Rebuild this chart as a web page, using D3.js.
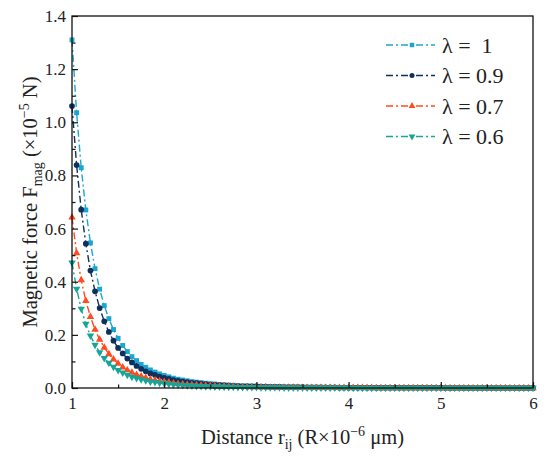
<!DOCTYPE html>
<html>
<head>
<meta charset="utf-8">
<script src="https://cdn.jsdelivr.net/npm/d3@7"></script>
<style>
    body { margin: 0; background: #fff; }
    svg text { font-family: "Liberation Serif", "Tinos", "Times New Roman", Times, "DejaVu Serif", serif; fill: #222; }
</style>
</head>
<body>
<div id="chart"></div>
<script>

// distance r_ij, step 0.05
let distance = [
    1.00, 1.05, 1.10, 1.15, 1.20, 1.25, 1.30, 1.35, 1.40, 1.45,
    1.50, 1.55, 1.60, 1.65, 1.70, 1.75, 1.80, 1.85, 1.90, 1.95,
    2.00, 2.05, 2.10, 2.15, 2.20, 2.25, 2.30, 2.35, 2.40, 2.45,
    2.50, 2.55, 2.60, 2.65, 2.70, 2.75, 2.80, 2.85, 2.90, 2.95,
    3.00, 3.05, 3.10, 3.15, 3.20, 3.25, 3.30, 3.35, 3.40, 3.45,
    3.50, 3.55, 3.60, 3.65, 3.70, 3.75, 3.80, 3.85, 3.90, 3.95,
    4.00, 4.05, 4.10, 4.15, 4.20, 4.25, 4.30, 4.35, 4.40, 4.45,
    4.50, 4.55, 4.60, 4.65, 4.70, 4.75, 4.80, 4.85, 4.90, 4.95,
    5.00, 5.05, 5.10, 5.15, 5.20, 5.25, 5.30, 5.35, 5.40, 5.45,
    5.50, 5.55, 5.60, 5.65, 5.70, 5.75, 5.80, 5.85, 5.90, 5.95,
    6.00
];

// magnetic force (x10^-5 N)
let force10 = [
    1.310, 1.036, 0.829, 0.670, 0.546, 0.449, 0.372, 0.310, 0.261, 0.220,
    0.187, 0.160, 0.137, 0.118, 0.103, 0.089, 0.078, 0.068, 0.060, 0.053,
    0.047, 0.042, 0.037, 0.033, 0.030, 0.027, 0.024, 0.022, 0.020, 0.018,
    0.016, 0.015, 0.013, 0.012, 0.011, 0.010, 0.009, 0.008, 0.008, 0.007,
    0.007, 0.006, 0.006, 0.005, 0.005, 0.005, 0.004, 0.004, 0.004, 0.004,
    0.003, 0.003, 0.003, 0.003, 0.003, 0.002, 0.002, 0.002, 0.002, 0.002,
    0.002, 0.002, 0.002, 0.002, 0.001, 0.001, 0.001, 0.001, 0.001, 0.001,
    0.001, 0.001, 0.001, 0.001, 0.001, 0.001, 0.001, 0.001, 0.001, 0.001,
    0.001, 0.001, 0.001, 0.001, 0.001, 0.000, 0.000, 0.000, 0.000, 0.000,
    0.000, 0.000, 0.000, 0.000, 0.000, 0.000, 0.000, 0.000, 0.000, 0.000,
    0.000
];

let force09 = [
    1.061, 0.839, 0.671, 0.543, 0.442, 0.364, 0.301, 0.251, 0.211, 0.178,
    0.151, 0.130, 0.111, 0.096, 0.083, 0.072, 0.063, 0.055, 0.049, 0.043,
    0.038, 0.034, 0.030, 0.027, 0.024, 0.022, 0.019, 0.018, 0.016, 0.015,
    0.013, 0.012, 0.011, 0.010, 0.009, 0.008, 0.007, 0.006, 0.006, 0.006,
    0.006, 0.005, 0.005, 0.004, 0.004, 0.004, 0.003, 0.003, 0.003, 0.003,
    0.003, 0.002, 0.002, 0.002, 0.002, 0.002, 0.002, 0.002, 0.001, 0.001,
    0.001, 0.001, 0.001, 0.001, 0.001, 0.001, 0.001, 0.001, 0.001, 0.001,
    0.001, 0.001, 0.001, 0.001, 0.001, 0.001, 0.001, 0.001, 0.001, 0.001,
    0.001, 0.000, 0.000, 0.000, 0.000, 0.000, 0.000, 0.000, 0.000, 0.000,
    0.000, 0.000, 0.000, 0.000, 0.000, 0.000, 0.000, 0.000, 0.000, 0.000,
    0.000
];

let force07 = [
    0.642, 0.508, 0.406, 0.328, 0.268, 0.220, 0.182, 0.152, 0.128, 0.108,
    0.092, 0.078, 0.067, 0.058, 0.050, 0.044, 0.038, 0.033, 0.029, 0.026,
    0.023, 0.021, 0.018, 0.016, 0.015, 0.013, 0.012, 0.011, 0.010, 0.009,
    0.008, 0.007, 0.006, 0.006, 0.005, 0.005, 0.004, 0.004, 0.004, 0.003,
    0.003, 0.003, 0.003, 0.002, 0.002, 0.002, 0.002, 0.002, 0.002, 0.002,
    0.001, 0.001, 0.001, 0.001, 0.001, 0.001, 0.001, 0.001, 0.001, 0.001,
    0.001, 0.001, 0.001, 0.001, 0.001, 0.001, 0.000, 0.000, 0.000, 0.000,
    0.000, 0.000, 0.000, 0.000, 0.000, 0.000, 0.000, 0.000, 0.000, 0.000,
    0.000, 0.000, 0.000, 0.000, 0.000, 0.000, 0.000, 0.000, 0.000, 0.000,
    0.000, 0.000, 0.000, 0.000, 0.000, 0.000, 0.000, 0.000, 0.000, 0.000,
    0.000
];

let force06 = [
    0.472, 0.373, 0.298, 0.241, 0.197, 0.162, 0.134, 0.112, 0.094, 0.079,
    0.067, 0.058, 0.049, 0.042, 0.037, 0.032, 0.028, 0.024, 0.022, 0.019,
    0.017, 0.015, 0.013, 0.012, 0.011, 0.010, 0.009, 0.008, 0.007, 0.006,
    0.006, 0.005, 0.005, 0.004, 0.004, 0.004, 0.003, 0.003, 0.003, 0.003,
    0.003, 0.002, 0.002, 0.002, 0.002, 0.002, 0.001, 0.001, 0.001, 0.001,
    0.001, 0.001, 0.001, 0.001, 0.001, 0.001, 0.001, 0.001, 0.001, 0.001,
    0.001, 0.000, 0.000, 0.000, 0.000, 0.000, 0.000, 0.000, 0.000, 0.000,
    0.000, 0.000, 0.000, 0.000, 0.000, 0.000, 0.000, 0.000, 0.000, 0.000,
    0.000, 0.000, 0.000, 0.000, 0.000, 0.000, 0.000, 0.000, 0.000, 0.000,
    0.000, 0.000, 0.000, 0.000, 0.000, 0.000, 0.000, 0.000, 0.000, 0.000,
    0.000
];

let seriesNames = ["λ =  1", "λ = 0.9", "λ = 0.7", "λ = 0.6"];
let seriesValues = [force10, force09, force07, force06];
let seriesColors = ["#1aa6cf", "#0f2f5c", "#ff4b1f", "#16a596"];
let seriesSymbols = [d3.symbolSquare, d3.symbolCircle, d3.symbolTriangle, d3.symbolTriangle];

let xTicks = [1, 2, 3, 4, 5, 6];
let yTicks = [0.0, 0.2, 0.4, 0.6, 0.8, 1.0, 1.2, 1.4];

let serif = '"Liberation Serif", "Tinos", "Times New Roman", Times, "DejaVu Serif", serif';

let margin = {top: 16, right: 17, bottom: 78, left: 72};
let width = 550 - margin.left - margin.right;
let height = 466 - margin.top - margin.bottom;

let svg = d3.select("#chart").append("svg")
    .attr("width", 550)
    .attr("height", 466)
    .style("font-family", serif);

let g = svg.append("g")
    .attr("transform", `translate(${margin.left}, ${margin.top})`);

let x = d3.scaleLinear().domain([1, 6]).range([0, width]);
let y = d3.scaleLinear().domain([0, 1.4]).range([height, 0]);

// series
let line = d3.line()
    .x((d, i) => x(distance[i]))
    .y(d => y(d));

seriesValues.forEach((vals, k) => {
    g.append("path")
        .datum(vals)
        .attr("fill", "none")
        .attr("stroke", seriesColors[k])
        .attr("stroke-width", 1.4)
        .attr("stroke-dasharray", "7,3,2,3")
        .attr("d", line);

    let sym = d3.symbol().type(seriesSymbols[k]).size(k === 1 ? 26 : 24);
    g.selectAll(".mk" + k)
        .data(vals)
        .enter().append("path")
        .attr("class", "mk" + k)
        .attr("d", sym)
        .attr("fill", seriesColors[k])
        .attr("transform", (d, i) => `translate(${x(distance[i])}, ${y(d)})` + (k === 3 ? " rotate(180)" : ""));
});

// axes (ticks pointing inward)
let xAxis = g.append("g")
    .attr("transform", `translate(0, ${height})`)
    .call(d3.axisBottom(x).tickValues(xTicks).tickFormat(d3.format("d")).tickSizeInner(-6).tickSizeOuter(0));
let xMinor = g.append("g")
    .attr("transform", `translate(0, ${height})`)
    .call(d3.axisBottom(x).tickValues([1.5, 2.5, 3.5, 4.5, 5.5]).tickFormat("").tickSizeInner(-3.5).tickSizeOuter(0));

let yAxis = g.append("g")
    .call(d3.axisLeft(y).tickValues(yTicks).tickFormat(d3.format(".1f")).tickSizeInner(-6).tickSizeOuter(0));
let yMinor = g.append("g")
    .call(d3.axisLeft(y).tickValues([0.1, 0.3, 0.5, 0.7, 0.9, 1.1, 1.3]).tickFormat("").tickSizeInner(-3.5).tickSizeOuter(0));

[xAxis, xMinor, yAxis, yMinor].forEach(a => {
    a.attr("font-family", null);
    a.select(".domain").remove();
    a.selectAll("line").attr("stroke", "#111").attr("stroke-width", 1.2);
});
xAxis.selectAll("text").attr("font-size", 17).attr("dy", "1.05em");
yAxis.selectAll("text").attr("font-size", 17).attr("x", -6);

// frame
g.append("rect")
    .attr("width", width)
    .attr("height", height)
    .attr("fill", "none")
    .attr("stroke", "#111")
    .attr("stroke-width", 1.3);

// axis titles
let xt = svg.append("text")
    .attr("x", margin.left + width / 2)
    .attr("y", 444)
    .attr("text-anchor", "middle")
    .attr("font-size", 20.5);
xt.append("tspan").text("Distance r");
xt.append("tspan").attr("font-size", 14).attr("dy", 5).text("ij");
xt.append("tspan").attr("dy", -5).text(" (R×10");
xt.append("tspan").attr("font-size", 14).attr("dy", -8).text("−6");
xt.append("tspan").attr("dy", 8).text(" μm)");

let yt = svg.append("text")
    .attr("transform", `translate(37, ${margin.top + height / 2}) rotate(-90)`)
    .attr("text-anchor", "middle")
    .attr("font-size", 20.5);
yt.append("tspan").text("Magnetic force F");
yt.append("tspan").attr("font-size", 14).attr("dy", 5).text("mag");
yt.append("tspan").attr("dy", -5).text(" (×10");
yt.append("tspan").attr("font-size", 14).attr("dy", -8).text("−5");
yt.append("tspan").attr("dy", 8).text(" N)");

// legend
let legend = svg.append("g").attr("transform", "translate(386, 45)");
seriesNames.forEach((name, k) => {
    let row = legend.append("g").attr("transform", `translate(0, ${k * 30.5})`);
    row.append("line")
        .attr("x1", 0).attr("x2", 49)
        .attr("stroke", seriesColors[k])
        .attr("stroke-width", 1.4)
        .attr("stroke-dasharray", "7,3,2,3");
    row.append("path")
        .attr("d", d3.symbol().type(seriesSymbols[k]).size(20))
        .attr("fill", seriesColors[k])
        .attr("transform", "translate(26, 0)" + (k === 3 ? " rotate(180)" : ""));
    row.append("text")
        .attr("x", 56)
        .attr("dy", "0.35em")
        .attr("font-size", 22)
        .attr("xml:space", "preserve")
        .style("white-space", "pre")
        .text(name);
});

</script>
</body>
</html>
